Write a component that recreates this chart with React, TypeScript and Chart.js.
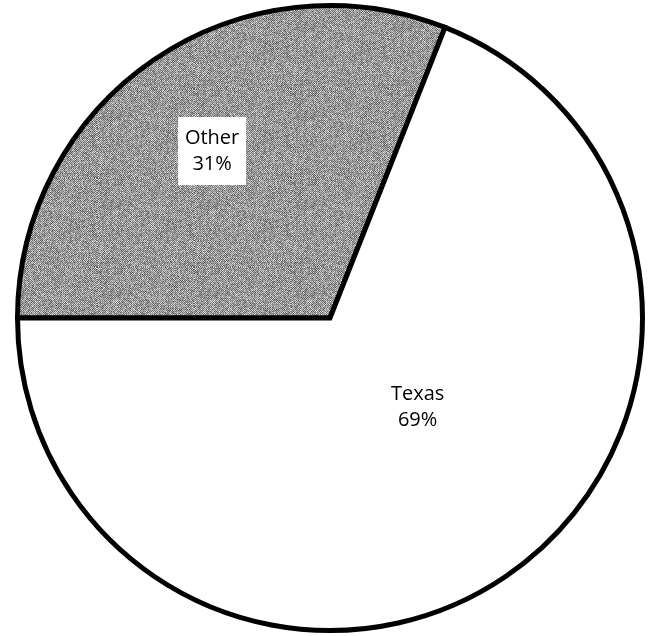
import React, { useEffect, useRef } from "react";
import { Chart, registerables } from "chart.js";

Chart.register(...registerables);

// Share of the total, by region
const categories = ["Other", "Texas"];
const shares = [31, 69];

// Builds the grainy halftone gray used for the "Other" slice
function makeGrain(ctx: CanvasRenderingContext2D): CanvasPattern | string {
  const tile = document.createElement("canvas");
  tile.width = 97;
  tile.height = 89;
  const t = tile.getContext("2d");
  if (!t) return "#999999";
  const img = t.createImageData(tile.width, tile.height);
  for (let y = 0; y < tile.height; y++) {
    for (let x = 0; x < tile.width; x++) {
      let h = (x * 374761393 + y * 668265263) | 0;
      h = Math.imul(h ^ (h >>> 13), 1274126177);
      h ^= h >>> 16;
      const n = (h >>> 0) / 4294967295;
      const checker = (x + y) % 2 === 0 ? 1 : 0;
      const v = Math.round(checker ? 80 + n * 80 : 140 + n * 90);
      const i = (y * tile.width + x) * 4;
      img.data[i] = v;
      img.data[i + 1] = v;
      img.data[i + 2] = v;
      img.data[i + 3] = 255;
    }
  }
  t.putImageData(img, 0, 0);
  return ctx.createPattern(tile, "repeat") || "#999999";
}

// Slice labels: name and percentage, placed along each slice's mid-angle
const labelPlugin = {
  id: "sliceLabels",
  afterDatasetsDraw(chart: any) {
    const { ctx } = chart;
    const meta = chart.getDatasetMeta(0);
    const placement = [
      { frac: 0.654, turn: -0.018, boxed: true },
      { frac: 0.4, turn: -0.18, boxed: false },
    ];
    ctx.save();
    ctx.font = '20px "Open Sans", sans-serif';
    ctx.textAlign = "center";
    ctx.textBaseline = "middle";
    meta.data.forEach((arc: any, i: number) => {
      const { x, y, startAngle, endAngle, outerRadius } = arc.getProps(
        ["x", "y", "startAngle", "endAngle", "outerRadius"],
        true
      );
      const p = placement[i];
      const mid = (startAngle + endAngle) / 2 + p.turn;
      const r = outerRadius * p.frac;
      const cx = x + Math.cos(mid) * r;
      const cy = y + Math.sin(mid) * r;
      const lines = [categories[i], `${shares[i]}%`];
      if (p.boxed) {
        ctx.fillStyle = "#ffffff";
        ctx.fillRect(cx - 34, cy - 34, 68, 68);
      }
      ctx.fillStyle = "#000000";
      ctx.fillText(lines[0], cx, cy - 13);
      ctx.fillText(lines[1], cx, cy + 13);
    });
    ctx.restore();
  },
};

export default function App() {
  const canvasRef = useRef<HTMLCanvasElement | null>(null);

  useEffect(() => {
    const canvas = canvasRef.current;
    if (!canvas) return;
    const ctx = canvas.getContext("2d");
    if (!ctx) return;
    const grain = makeGrain(ctx);

    const chart = new Chart(canvas, {
      type: "pie",
      data: {
        labels: categories,
        datasets: [
          {
            data: shares,
            backgroundColor: [grain as any, "#ffffff"],
            borderColor: "#000000",
            borderWidth: 5,
            borderJoinStyle: "miter",
            hoverOffset: 0,
          },
        ],
      },
      options: {
        responsive: false,
        animation: false,
        rotation: 270,
        radius: 312.5,
        layout: { padding: { left: 5 } },
        plugins: {
          legend: { display: false },
          tooltip: { enabled: false },
        },
      },
      plugins: [labelPlugin],
    });

    return () => chart.destroy();
  }, []);

  return (
    <div
      style={{
        position: "absolute",
        left: 0,
        top: 0,
        width: 655,
        height: 636,
        background: "#ffffff",
      }}
    >
      <canvas ref={canvasRef} width={655} height={636} />
    </div>
  );
}
